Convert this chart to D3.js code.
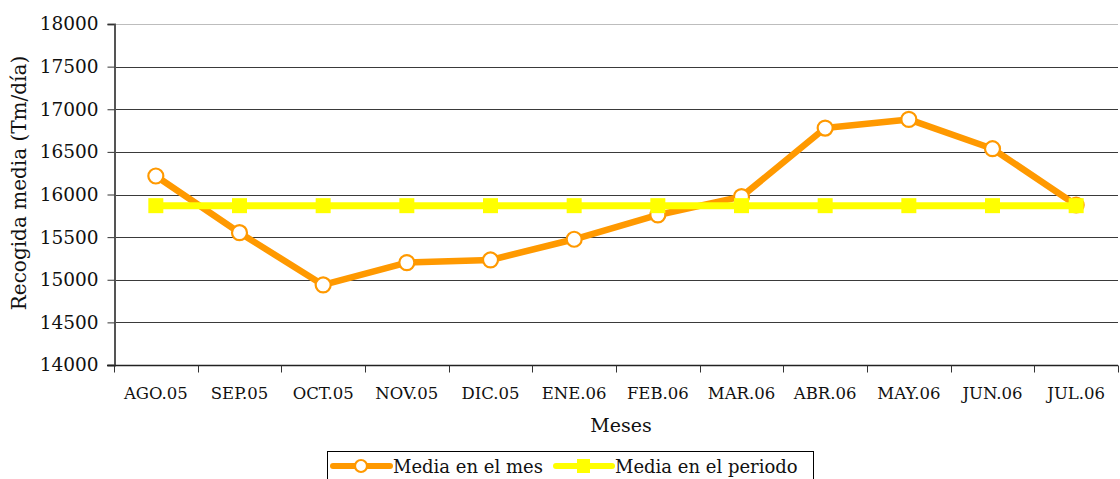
<!DOCTYPE html>
<html><head><meta charset="utf-8">
<script src="https://cdn.jsdelivr.net/npm/d3@7"></script>
<style>html,body{margin:0;padding:0;background:#fff;overflow:hidden}svg{display:block}</style>
</head><body>
<svg id="chart" width="1120" height="479"></svg>
<script>
const categories = ["AGO.05","SEP.05","OCT.05","NOV.05","DIC.05","ENE.06","FEB.06","MAR.06","ABR.06","MAY.06","JUN.06","JUL.06"];
const mediaMes = [16217,15552,14939,15201,15232,15475,15760,15975,16779,16881,16537,15877];
const mediaPeriodo = [15869,15869,15869,15869,15869,15869,15869,15869,15869,15869,15869,15869];
const yTicks = [14000,14500,15000,15500,16000,16500,17000,17500,18000];
const seriesNames = ["Media en el mes","Media en el periodo"];
const xTitle = "Meses";
const yTitle = "Recogida media (Tm/día)";

const FONT = "'DejaVu Serif', 'Liberation Serif', serif";
const svg = d3.select("#chart");
const L = 114, R = 1118, T = 24, B = 365;
const x = d3.scaleBand().domain(categories).range([L, R]).padding(0);
const y = d3.scaleLinear().domain([14000, 18000]).range([B, T]);
const cx = d => x(d) + x.bandwidth() / 2;

// gridlines
svg.append("g").selectAll("line").data(yTicks.filter(t => t > 14000)).join("line")
  .attr("x1", L).attr("x2", R).attr("y1", d => Math.round(y(d)) + 0.5).attr("y2", d => Math.round(y(d)) + 0.5)
  .attr("stroke", d => d === 18000 ? "#bdbdbd" : "#3a3a3a").attr("stroke-width", 1);

// y axis
const yAxis = d3.axisLeft(y).tickValues(yTicks).tickSize(7).tickPadding(9).tickFormat(d3.format("d"));
const gy = svg.append("g").attr("transform", `translate(${L + 0.5},0)`).call(yAxis);
gy.select(".domain").attr("stroke", "#555").attr("stroke-width", 2);
gy.selectAll(".tick line").attr("stroke", "#333");
gy.selectAll(".tick text").attr("font-family", FONT).attr("font-size", 18.5).attr("fill", "#111");

// x axis
const gx = svg.append("g").attr("transform", `translate(0,${B + 0.5})`);
gx.append("line").attr("x1", L - 7).attr("x2", R).attr("stroke", "#222").attr("stroke-width", 1.5);
const bounds = categories.map(c => x(c)).concat([R]);
gx.selectAll(".tk").data(bounds).join("line").attr("class", "tk")
  .attr("x1", d => Math.round(d) + 0.5).attr("x2", d => Math.round(d) + 0.5).attr("y1", 0).attr("y2", 7)
  .attr("stroke", "#333");
gx.selectAll(".lbl").data(categories).join("text").attr("class", "lbl")
  .attr("x", d => cx(d)).attr("y", 33).attr("text-anchor", "middle")
  .attr("font-family", FONT).attr("font-size", 16.5).attr("fill", "#111").text(d => d);

// titles
svg.append("text").attr("x", 621).attr("y", 432).attr("text-anchor", "middle")
  .attr("font-family", FONT).attr("font-size", 19).attr("fill", "#111").text(xTitle);
svg.append("text").attr("transform", "translate(26,183) rotate(-90)").attr("text-anchor", "middle")
  .attr("font-family", FONT).attr("font-size", 20).attr("fill", "#111").text(yTitle);

const ORANGE = "#ff9900", YELLOW = "#ffff00";
const line = d3.line().x((d, i) => cx(categories[i])).y(d => y(d));

// orange series
svg.append("path").datum(mediaMes).attr("d", line).attr("fill", "none")
  .attr("stroke", ORANGE).attr("stroke-width", 6.5).attr("stroke-linejoin", "round");
svg.append("g").selectAll("circle").data(mediaMes).join("circle")
  .attr("cx", (d, i) => cx(categories[i])).attr("cy", d => y(d)).attr("r", 7.5)
  .attr("fill", "#fff").attr("stroke", ORANGE).attr("stroke-width", 2.2);

// yellow series
svg.append("path").datum(mediaPeriodo).attr("d", line).attr("fill", "none")
  .attr("stroke", YELLOW).attr("stroke-width", 7);
svg.append("g").selectAll("rect").data(mediaPeriodo).join("rect")
  .attr("x", (d, i) => cx(categories[i]) - 7.5).attr("y", d => y(d) - 7.5).attr("width", 15).attr("height", 15)
  .attr("fill", YELLOW);

// legend
const lg = svg.append("g");
lg.append("rect").attr("x", 327.5).attr("y", 451.5).attr("width", 486).attr("height", 40)
  .attr("fill", "#fff").attr("stroke", "#000").attr("stroke-width", 1);
const ly = 466;
lg.append("line").attr("x1", 333).attr("x2", 390).attr("y1", ly).attr("y2", ly)
  .attr("stroke", ORANGE).attr("stroke-width", 6).attr("stroke-linecap", "round");
lg.append("circle").attr("cx", 361).attr("cy", ly).attr("r", 6).attr("fill", "#fff")
  .attr("stroke", ORANGE).attr("stroke-width", 2.2);
lg.append("text").attr("x", 393).attr("y", 473).attr("font-family", FONT).attr("font-size", 18)
  .attr("fill", "#111").text(seriesNames[0]);
lg.append("line").attr("x1", 556).attr("x2", 612).attr("y1", ly).attr("y2", ly)
  .attr("stroke", YELLOW).attr("stroke-width", 6).attr("stroke-linecap", "round");
lg.append("rect").attr("x", 577).attr("y", ly - 7).attr("width", 13).attr("height", 14).attr("fill", YELLOW);
lg.append("text").attr("x", 615).attr("y", 473).attr("font-family", FONT).attr("font-size", 18)
  .attr("fill", "#111").text(seriesNames[1]);
</script>
</body></html>
